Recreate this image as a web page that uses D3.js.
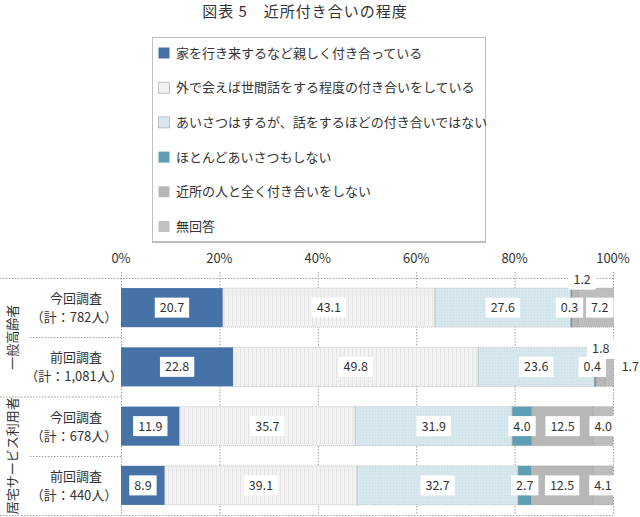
<!DOCTYPE html>
<html><head><meta charset="utf-8">
<script src="https://cdn.jsdelivr.net/npm/d3@7"></script>
<style>
body{margin:0;background:#fff;}
text{font-family:"Noto Sans CJK JP","Noto Sans",sans-serif;fill:#333;}
</style></head>
<body><svg id="c" width="640" height="517"></svg>
<script>
const title = "図表 5　近所付き合いの程度";
const seriesNames = [
  "家を行き来するなど親しく付き合っている",
  "外で会えば世間話をする程度の付き合いをしている",
  "あいさつはするが、話をするほどの付き合いではない",
  "ほとんどあいさつもしない",
  "近所の人と全く付き合いをしない",
  "無回答"
];
const rowLabels = ["今回調査","前回調査","今回調査","前回調査"];
const rowTotals = ["（計：782人）","（計：1,081人）","（計：678人）","（計：440人）"];
const groups = ["一般高齢者","居宅サービス利用者"];
const row1 = [20.7, 43.1, 27.6, 0.3, 1.2, 7.2];
const row2 = [22.8, 49.8, 23.6, 0.4, 1.8, 1.7];
const row3 = [11.9, 35.7, 31.9, 4.0, 12.5, 4.0];
const row4 = [8.9, 39.1, 32.7, 2.7, 12.5, 4.1];
const tickValues = [0, 20, 40, 60, 80, 100];

const rows = [row1, row2, row3, row4];
const colors = ["#4672a8", "url(#stripe)", "url(#dots)", "#5e9eb4", "#b7b7b7", "#bdbdbd"];
const legendColors = ["#4672a8", "#f0f0f0", "#d6e8ee", "#5e9eb4", "#b7b7b7", "#c2c2c2"];
// label nudges for small segments (layout only): key "row-series"
const nudge = {"0-3":{dx:-2,dy:0},"0-4":{dx:7,dy:-28},"0-5":{dx:4,dy:0},
               "1-3":{dx:-3,dy:0},"1-4":{dx:0,dy:-18},"1-5":{dx:21,dy:0}};

const svg = d3.select("#c");
const defs = svg.append("defs");
const p1 = defs.append("pattern").attr("id","stripe").attr("width",4).attr("height",4).attr("patternUnits","userSpaceOnUse");
p1.append("rect").attr("width",4).attr("height",4).attr("fill","#f2f2f2");
p1.append("rect").attr("x",0).attr("width",0.7).attr("height",4).attr("fill","#e0e0e0");
const p2 = defs.append("pattern").attr("id","dots").attr("width",3).attr("height",3).attr("patternUnits","userSpaceOnUse");
p2.append("rect").attr("width",3).attr("height",3).attr("fill","#d6e8ee");
p2.append("rect").attr("x",0).attr("y",0).attr("width",1).attr("height",1).attr("fill","#c8dce3");

const x = d3.scaleLinear().domain([0,100]).range([121,613]);
const y = d3.scaleBand().domain(d3.range(4)).range([278,515]).paddingInner(0.34).paddingOuter(0.17);
const dotted = "1.5,1.5";
const gcol = "#a0a0a0";

// title
svg.append("text").attr("x",305).attr("y",17).attr("text-anchor","middle")
  .style("font-size","15px").style("letter-spacing","1px").text(title);

// legend
const lg = svg.append("g");
lg.append("rect").attr("x",152.5).attr("y",37.5).attr("width",333).attr("height",204)
  .attr("fill","#fff").attr("stroke","#c0c0c0");
lg.append("line").attr("x1",152).attr("x2",486).attr("y1",242).attr("y2",242).attr("stroke","#bdbdbd").attr("stroke-width",2);
seriesNames.forEach((n,i)=>{
  const cy = 53 + i*34.7;
  lg.append("rect").attr("x",158.5).attr("y",cy-5.5).attr("width",11).attr("height",11)
    .attr("fill",legendColors[i]).attr("stroke", i===1||i===2 ? "#a8a8a8":"none").attr("stroke-width",0.7);
  lg.append("text").attr("x",176).attr("y",cy).attr("dy","0.35em").style("font-size","13px").text(n);
});

// gridlines
svg.append("g").selectAll("line").data(tickValues).join("line")
  .attr("x1",d=>x(d)+0.5).attr("x2",d=>x(d)+0.5).attr("y1",272).attr("y2",515)
  .attr("stroke",gcol).attr("stroke-dasharray",dotted);
// axis labels
svg.append("g").selectAll("text").data(tickValues).join("text")
  .attr("x",d=>x(d)).attr("y",258).attr("dy","0.35em").attr("text-anchor","middle")
  .style("font-size","13px").text(d=>d+"%");

// horizontal table lines
const hl = [[0,613,278],[30,121,337],[0,121,396.5],[30,121,456],[0,613,515]];
svg.append("g").selectAll("line").data(hl).join("line")
  .attr("x1",d=>d[0]).attr("x2",d=>d[1]).attr("y1",d=>d[2]+0.5).attr("y2",d=>d[2]+0.5)
  .attr("stroke",gcol).attr("stroke-dasharray",dotted);

// bars
rows.forEach((vals,r)=>{
  let cum = 0;
  const segs = vals.map((v,i)=>{const s={v,i,x0:cum,x1:cum+v}; cum+=v; return s;});
  const g = svg.append("g");
  g.selectAll("rect").data(segs).join("rect")
    .attr("x",d=>x(d.x0)).attr("width",d=>x(d.x1)-x(d.x0))
    .attr("y",y(r)).attr("height",y.bandwidth())
    .attr("fill",d=>colors[d.i]);
  g.selectAll("rect.o").data(segs.filter(d=>d.i>0)).join("rect").attr("class","o")
    .attr("x",d=>x(d.x0)).attr("width",d=>x(d.x1)-x(d.x0))
    .attr("y",y(r)).attr("height",y.bandwidth())
    .attr("fill","none").attr("stroke",d=>d.i>=3?"#9a9a9a":"#a8a8a8").attr("stroke-width",0.6).attr("stroke-dasharray","1,1");
  // labels
  const lab = g.selectAll("g.l").data(segs).join("g").attr("class","l")
    .attr("transform",d=>{
      const n = nudge[r+"-"+d.i]||{dx:0,dy:0};
      return `translate(${x((d.x0+d.x1)/2)+n.dx},${y(r)+y.bandwidth()/2+n.dy})`;
    });
  lab.append("text").attr("text-anchor","middle").attr("dy","0.35em").style("font-size","12.5px")
    .text(d=>d.v.toFixed(1));
  lab.each(function(){
    const t = d3.select(this).select("text");
    const bb = t.node().getBBox();
    d3.select(this).insert("rect","text").attr("x",bb.x-5).attr("y",-10).attr("width",bb.width+10).attr("height",20).attr("fill","#fff");
  });
  // row labels
  const cy = y(r)+y.bandwidth()/2;
  svg.append("text").attr("x",76).attr("y",cy-9).attr("dy","0.35em").attr("text-anchor","middle")
    .style("font-size","13px").text(rowLabels[r]);
  svg.append("text").attr("x",74).attr("y",cy+10).attr("dy","0.35em").attr("text-anchor","middle")
    .style("font-size","13px").text(rowTotals[r]);
});

// group labels (vertical)
groups.forEach((gname,i)=>{
  const cy = (y(i*2)+y(i*2+1)+y.bandwidth())/2;
  svg.append("text").attr("transform",`translate(12,${cy}) rotate(-90)`).attr("text-anchor","middle")
    .attr("dy","0.35em").style("font-size","13px").text(gname);
});
</script></body></html>
